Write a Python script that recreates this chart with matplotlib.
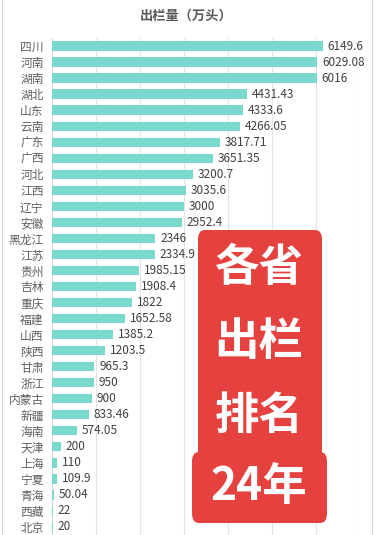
import matplotlib
matplotlib.use('Agg')
import matplotlib.pyplot as plt
from matplotlib.patches import FancyBboxPatch, Rectangle

plt.rcParams['font.family'] = ['Noto Sans CJK SC', 'DejaVu Sans']

# data
provinces = ['四川', '河南', '湖南', '湖北', '山东', '云南', '广东', '广西', '河北', '江西',
             '辽宁', '安徽', '黑龙江', '江苏', '贵州', '吉林', '重庆', '福建', '山西', '陕西',
             '甘肃', '浙江', '内蒙古', '新疆', '海南', '天津', '上海', '宁夏', '青海', '西藏', '北京']
values = [6149.6, 6029.08, 6016, 4431.43, 4333.6, 4266.05, 3817.71, 3651.35, 3200.7, 3035.6,
          3000, 2952.4, 2346, 2334.9, 1985.15, 1908.4, 1822, 1652.58, 1385.2, 1203.5,
          965.3, 950, 900, 833.46, 574.05, 200, 110, 109.9, 50.04, 22, 20]
title = '出栏量（万头）'
badge_lines = ['各省', '出栏', '排名', '24年']

W, H = 378, 535
fig = plt.figure(figsize=(W / 100, H / 100), dpi=100)
fig.patch.set_facecolor('white')

# outer chart frame
fig.patches.append(Rectangle((0.004, -0.01), 370 / W, 1.02, transform=fig.transFigure,
                             fill=False, edgecolor='#d9d9d9', linewidth=0.8))

ax = fig.add_axes([52 / W, 0, 308 / W, 497 / H])
y = list(range(len(provinces)))
ax.barh(y, values, height=0.58, color='#7ad9cc', zorder=3)
ax.set_ylim(len(provinces) - 0.5, -0.5)
ax.set_xlim(0, 7000)
ax.set_xticks(range(0, 7001, 1000))
ax.xaxis.grid(True, color='#e3e3e3', linewidth=0.8, zorder=0)
ax.tick_params(axis='x', length=0, labelbottom=False)
ax.tick_params(axis='y', length=0, pad=6)
ax.set_yticks(y)
ax.set_yticklabels(provinces, fontsize=8.5, color='#606060')
for s in ['top', 'right', 'bottom']:
    ax.spines[s].set_visible(False)
ax.spines['left'].set_color('#d9d9d9')
ax.spines['left'].set_linewidth(0.8)

for i, v in enumerate(values):
    ax.text(v + 110, i, f'{v:g}', fontsize=8.5, color='#404040',
            ha='left', va='center')

fig.text(186 / W, 1 - 16 / H, title, fontsize=9.5, color='#595959',
         ha='center', va='center', fontweight='bold')

# red badge
red = '#e5423f'
fig.patches.append(FancyBboxPatch((198 / W, 1 - 460 / H), 124 / W, 230 / H,
                                  boxstyle='round,pad=0,rounding_size=0.018',
                                  transform=fig.transFigure, facecolor=red,
                                  edgecolor='none', zorder=5))
fig.patches.append(FancyBboxPatch((192 / W, 1 - 523 / H), 135 / W, 71 / H,
                                  boxstyle='round,pad=0,rounding_size=0.018',
                                  transform=fig.transFigure, facecolor=red,
                                  edgecolor='none', zorder=5))
for txt, yc in zip(badge_lines, [268, 342, 416, 487]):
    fig.text(259 / W, 1 - yc / H, txt, fontsize=32, color='white', ha='center',
             va='center', fontweight='bold', zorder=6)

fig.savefig('out.png', dpi=100)
